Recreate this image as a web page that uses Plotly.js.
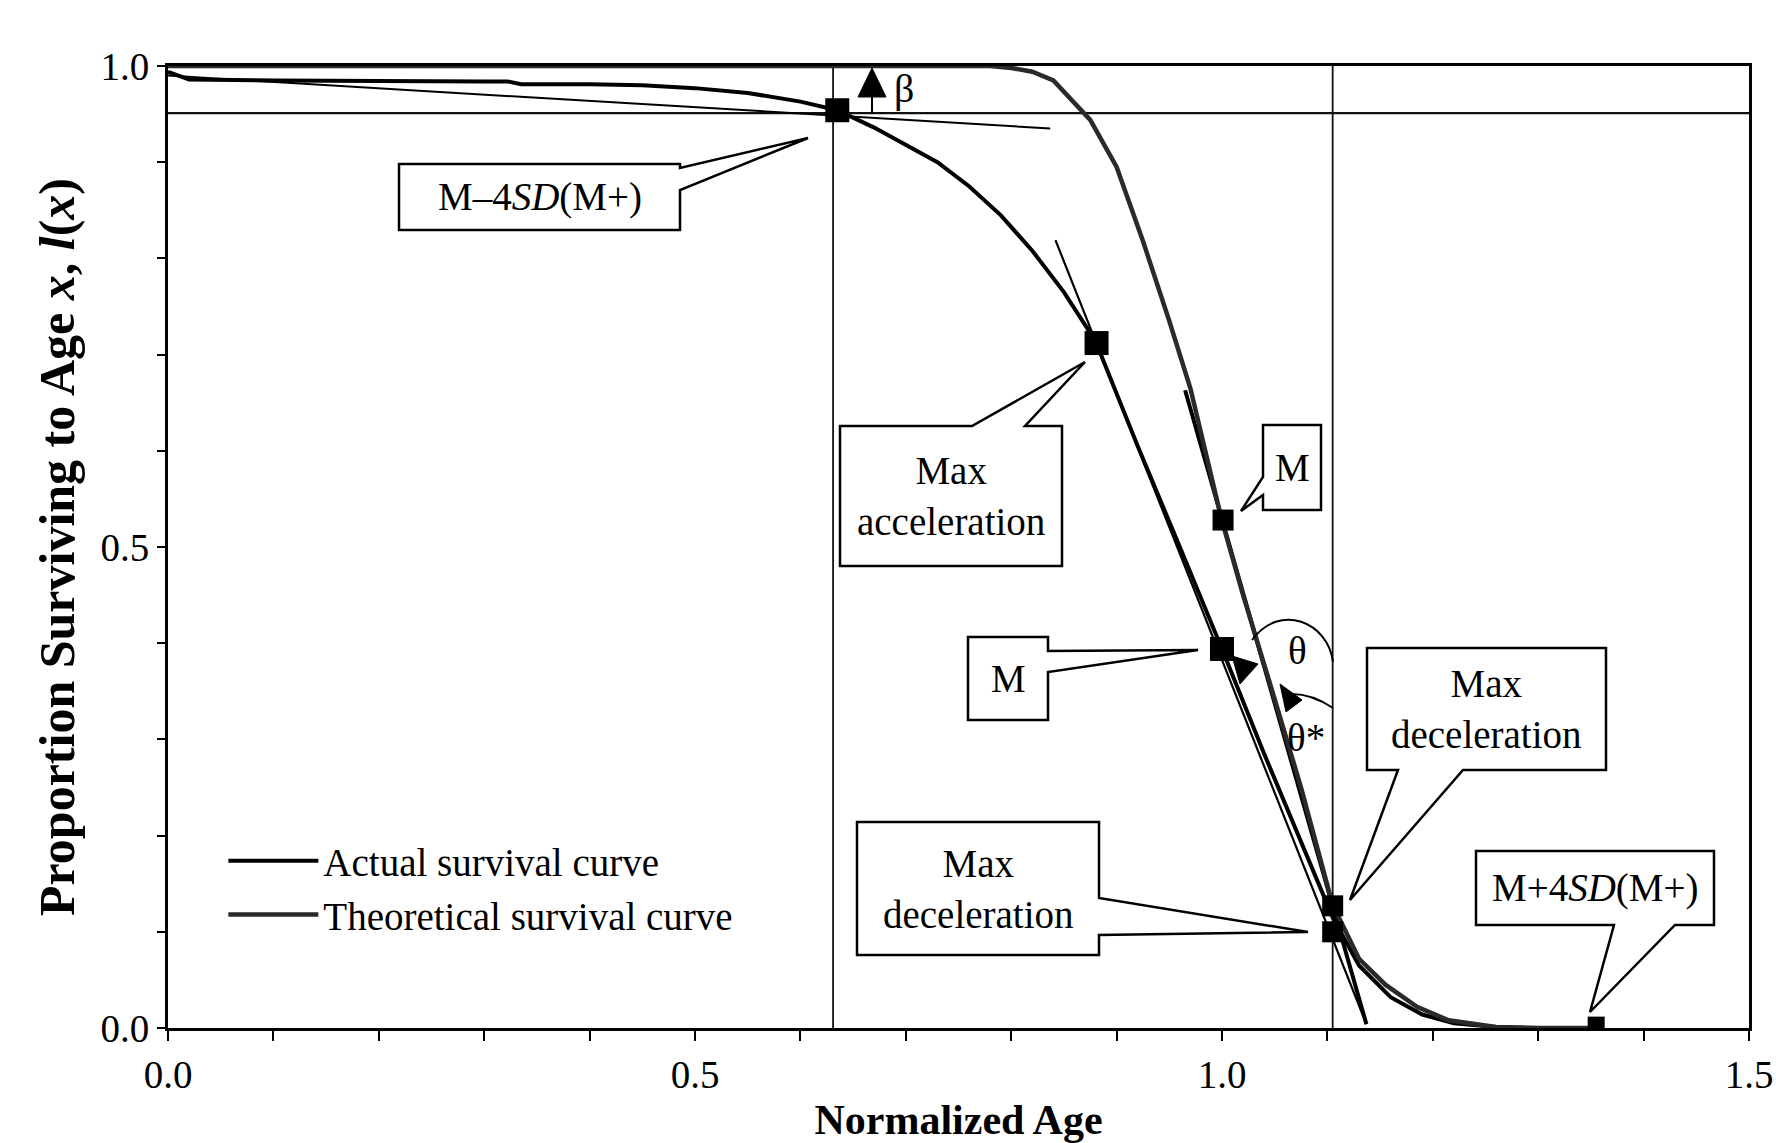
<!DOCTYPE html>
<html>
<head>
<meta charset="utf-8">
<script src="https://cdn.plot.ly/plotly-3.0.1.min.js"></script>
<style>html,body{margin:0;padding:0;background:#fff;}#chart{width:1776px;height:1143px;}</style>
</head>
<body>
<div id="chart"></div>
<script>
// ---------------- data ----------------
const actualX = [0, 0.02, 0.1, 0.2, 0.3, 0.322, 0.335, 0.4, 0.45, 0.5, 0.55, 0.6, 0.635, 0.67, 0.7, 0.73, 0.76, 0.79, 0.82, 0.85, 0.88, 0.92, 0.96, 1.0, 1.04, 1.08, 1.105, 1.13, 1.16, 1.19, 1.22, 1.26, 1.3, 1.36];
const actualY = [0.994, 0.986, 0.985, 0.984, 0.984, 0.984, 0.981, 0.981, 0.980, 0.977, 0.972, 0.963, 0.954, 0.936, 0.918, 0.900, 0.875, 0.845, 0.808, 0.765, 0.714, 0.605, 0.500, 0.394, 0.285, 0.180, 0.115, 0.065, 0.032, 0.014, 0.005, 0.001, 0.0, 0.0];

const theoX = [0, 0.78, 0.80, 0.82, 0.84, 0.86, 0.875, 0.90, 0.925, 0.95, 0.97, 1.0, 1.02, 1.045, 1.075, 1.105, 1.13, 1.155, 1.185, 1.215, 1.26, 1.3, 1.36];
const theoY = [1.0, 1.0, 0.998, 0.994, 0.985, 0.962, 0.944, 0.895, 0.818, 0.735, 0.665, 0.527, 0.45, 0.36, 0.25, 0.128, 0.072, 0.045, 0.022, 0.008, 0.001, 0.0, 0.0];

const betaTanX = [0.0, 0.837];
const betaTanY = [0.990, 0.935];
const accelTanX = [0.842, 1.137];
const accelTanY = [0.819, 0.004];
const mTanX = [0.965, 1.137];
const mTanY = [0.663, 0.004];

const pointLabels = ['M-4SD(M+)', 'Max acceleration', 'M (theoretical)', 'M (actual)', 'Max deceleration', 'Max deceleration', 'M+4SD(M+)'];
const pointX = [0.635, 0.881, 1.001, 1.0, 1.105, 1.105, 1.355];
const pointY = [0.954, 0.712, 0.528, 0.394, 0.127, 0.100, 0.003];

const refVLinesX = [0.631, 1.105];
const refHLineY = [0.951];

const xTickVals = [0, 0.5, 1.0, 1.5];
const yTickVals = [0, 0.5, 1.0];

// ---------------- helpers (layout geometry in page pixels) ----------------
const L = 168, R = 1749, T = 66, B = 1028;
const dx = X => (X - L) / (R - L) * 1.5;
const dy = Y => (B - Y) / (B - T);
const P = (X, Y) => dx(X).toFixed(5) + ',' + dy(Y).toFixed(5);

const FONT = '"Liberation Serif", "Times New Roman", serif';
const TXT = 39;

const callouts = [
  {text: 'M–4<i>SD</i>(M+)', box: [399, 164, 680, 230], side: 'right', b: [168, 190], tip: [808, 138]},
  {text: 'Max<br>acceleration', box: [840, 426, 1062, 566], side: 'top', b: [972, 1025], tip: [1085, 362]},
  {text: 'M', box: [1263, 425, 1321, 510], side: 'left', b: [477, 495], tip: [1241, 511]},
  {text: 'M', box: [968, 637, 1048, 720], side: 'right', b: [651, 672], tip: [1198, 650]},
  {text: 'Max<br>deceleration', box: [1367, 648, 1606, 770], side: 'bottom', b: [1398, 1463], tip: [1350, 900]},
  {text: 'Max<br>deceleration', box: [857, 822, 1099, 955], side: 'right', b: [898, 935], tip: [1308, 932]},
  {text: 'M+4<i>SD</i>(M+)', box: [1476, 851, 1714, 925], side: 'bottom', b: [1614, 1675], tip: [1590, 1012]}
];

function calloutPath(c) {
  const [x0, y0, x1, y1] = c.box;
  const pts = [[x0, y0]];
  if (c.side === 'top') pts.push([c.b[0], y0], c.tip, [c.b[1], y0]);
  pts.push([x1, y0]);
  if (c.side === 'right') pts.push([x1, c.b[0]], c.tip, [x1, c.b[1]]);
  pts.push([x1, y1]);
  if (c.side === 'bottom') pts.push([c.b[1], y1], c.tip, [c.b[0], y1]);
  pts.push([x0, y1]);
  if (c.side === 'left') pts.push([x0, c.b[1]], c.tip, [x0, c.b[0]]);
  return 'M' + pts.map(p => P(p[0], p[1])).join('L') + 'Z';
}

const shapes = [];
const annotations = [];

refVLinesX.forEach(v => shapes.push({type: 'line', xref: 'x', yref: 'paper', x0: v, x1: v, y0: 0, y1: 1, line: {color: '#111', width: 1.8}, layer: 'below'}));
refHLineY.forEach(v => shapes.push({type: 'line', xref: 'paper', yref: 'y', x0: 0, x1: 1, y0: v, y1: v, line: {color: '#111', width: 2.2}, layer: 'below'}));

callouts.forEach(c => {
  shapes.push({type: 'path', xref: 'x', yref: 'y', path: calloutPath(c), fillcolor: '#fff', line: {color: '#000', width: 2.5}, layer: 'above'});
  annotations.push({xref: 'x', yref: 'y', x: dx((c.box[0] + c.box[2]) / 2), y: dy((c.box[1] + c.box[3]) / 2),
    text: c.text, showarrow: false, font: {family: FONT, size: TXT, color: '#000'}, xanchor: 'center', yanchor: 'middle'});
});

// beta arrow
shapes.push({type: 'line', xref: 'x', yref: 'y', x0: dx(872), x1: dx(872), y0: dy(114), y1: dy(92), line: {color: '#000', width: 2}});
shapes.push({type: 'path', xref: 'x', yref: 'y', path: 'M' + P(872, 68) + 'L' + P(858, 97) + 'L' + P(886, 97) + 'Z', fillcolor: '#000', line: {color: '#000', width: 1}});
annotations.push({xref: 'x', yref: 'y', x: dx(904), y: dy(88), text: 'β', showarrow: false, font: {family: FONT, size: 40, color: '#000'}});

// theta arcs
shapes.push({type: 'path', xref: 'x', yref: 'y', path: 'M' + P(1333, 662) + 'C' + P(1328, 622) + ' ' + P(1280, 602) + ' ' + P(1252, 640), line: {color: '#000', width: 2}});
shapes.push({type: 'path', xref: 'x', yref: 'y', path: 'M' + P(1240, 684) + 'L' + P(1232, 656) + 'L' + P(1258, 664) + 'Z', fillcolor: '#000', line: {color: '#000', width: 1}});
shapes.push({type: 'path', xref: 'x', yref: 'y', path: 'M' + P(1333, 708) + 'C' + P(1318, 698) + ' ' + P(1305, 694) + ' ' + P(1292, 694), line: {color: '#000', width: 2}});
shapes.push({type: 'path', xref: 'x', yref: 'y', path: 'M' + P(1280, 684) + 'L' + P(1302, 700) + 'L' + P(1286, 712) + 'Z', fillcolor: '#000', line: {color: '#000', width: 1}});
annotations.push({xref: 'x', yref: 'y', x: dx(1297), y: dy(650), text: 'θ', showarrow: false, font: {family: FONT, size: TXT, color: '#000'}});
annotations.push({xref: 'x', yref: 'y', x: dx(1306), y: dy(737), text: 'θ*', showarrow: false, font: {family: FONT, size: TXT, color: '#000'}});

// ---------------- traces ----------------
const traces = [
  {x: betaTanX, y: betaTanY, mode: 'lines', line: {color: '#000', width: 2}, showlegend: false, hoverinfo: 'skip'},
  {x: accelTanX, y: accelTanY, mode: 'lines', line: {color: '#000', width: 2.2}, showlegend: false, hoverinfo: 'skip'},
  {x: mTanX, y: mTanY, mode: 'lines', line: {color: '#000', width: 4}, showlegend: false, hoverinfo: 'skip'},
  {x: actualX, y: actualY, mode: 'lines', name: 'Actual survival curve', line: {color: '#000', width: 4}},
  {x: theoX, y: theoY, mode: 'lines', name: 'Theoretical survival curve', line: {color: '#2a2a2a', width: 4.5}},
  {x: pointX, y: pointY, text: pointLabels, mode: 'markers', showlegend: false, opacity: 1,
   marker: {symbol: 'square', color: '#000', opacity: 1, size: [24, 24, 21, 24, 21, 21, 17], line: {width: 0}}}
];

const axisCommon = {
  showline: true, linecolor: '#000', linewidth: 3, mirror: true,
  showgrid: false, zeroline: false, ticks: 'outside', tickcolor: '#000', tickwidth: 2,
  tickfont: {family: FONT, size: TXT, color: '#000'}, tickformat: '.1f', tickmode: 'array',
  minor: {ticks: 'outside', dtick: 0.1, tick0: 0, tickwidth: 2, tickcolor: '#000', showgrid: false}
};

const layout = {
  width: 1776, height: 1143,
  margin: {l: L, r: 1776 - R, t: T, b: 1143 - B},
  paper_bgcolor: '#fff', plot_bgcolor: '#fff',
  font: {family: FONT, color: '#000'},
  xaxis: Object.assign({}, axisCommon, {range: [0, 1.5], tickvals: xTickVals, ticklen: 10,
    minor: Object.assign({}, axisCommon.minor, {ticklen: 10}),
    title: {text: 'Normalized Age', font: {family: FONT, size: 42, weight: 'bold', color: '#000'}, standoff: 16}}),
  yaxis: Object.assign({}, axisCommon, {range: [0, 1], tickvals: yTickVals, ticklen: 8,
    minor: Object.assign({}, axisCommon.minor, {ticklen: 8}),
    title: {text: 'Proportion Surviving to Age <i>x</i>, <i>l</i>(<i>x</i>)', font: {family: FONT, size: 50, weight: 'bold', color: '#000'}, standoff: 10}}),
  showlegend: true,
  legend: {x: 0.035, y: 0.207, xanchor: 'left', yanchor: 'top', bgcolor: 'rgba(0,0,0,0)',
    font: {family: FONT, size: TXT, color: '#000'}, itemwidth: 90, tracegroupgap: 0},
  shapes: shapes,
  annotations: annotations
};

Plotly.newPlot('chart', traces, layout, {displayModeBar: false, staticPlot: true});
</script>
</body>
</html>
